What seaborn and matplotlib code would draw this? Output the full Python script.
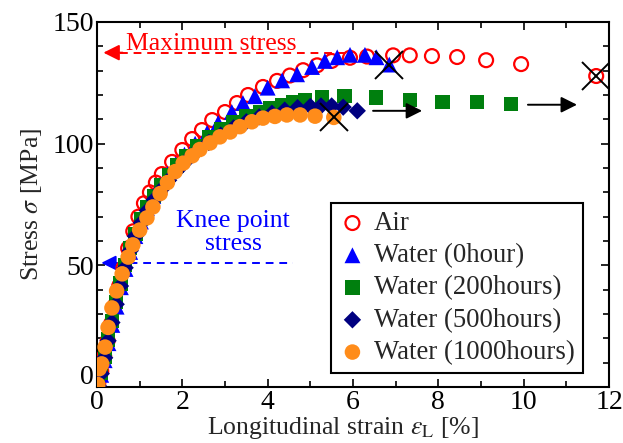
import matplotlib
matplotlib.use("Agg")
import matplotlib.pyplot as plt
from matplotlib.ticker import MultipleLocator, FuncFormatter
import seaborn as sns
import pandas as pd

# ---------------- data ----------------
air_x = [0.03, 0.1, 0.17, 0.25, 0.33, 0.42, 0.52, 0.62, 0.73, 0.85, 0.97, 1.1, 1.24, 1.38, 1.52,
         1.76, 2.0, 2.23, 2.46, 2.7, 3.0, 3.28, 3.54, 3.89, 4.22, 4.52, 4.83, 5.16, 5.5, 5.93,
         6.33, 6.94, 7.33, 7.85, 8.44, 9.12, 9.94, 11.7]
air_y = [1.5, 6.5, 12.5, 19, 26, 33.5, 41.5, 49, 57, 64, 70, 75.5, 80, 84, 87.5,
         92.5, 97.4, 101.9, 105.6, 109.7, 113, 116.7, 120, 123.3, 125.8, 128, 130.2, 132.2, 134, 135.3,
         135.8, 136.3, 136.3, 136, 135.6, 134.3, 132.7, 127.8]

w0_x = [0.03, 0.1, 0.18, 0.27, 0.36, 0.46, 0.56, 0.67, 0.78, 0.9, 1.03, 1.17, 1.32, 1.48, 1.65,
        1.84, 2.05, 2.3, 2.58, 2.84, 3.16, 3.42, 3.7, 4.0, 4.34, 4.69, 5.04, 5.34, 5.63, 5.93,
        6.28, 6.55, 6.85]
w0_y = [0.5, 5, 11, 18, 25.5, 33, 41, 48.5, 55.5, 62, 68, 73.5, 78.5, 83, 87.5,
        91.5, 95.5, 100, 104.4, 108.5, 113, 116.7, 119.5, 123, 126, 128.5, 131.5, 134, 135.5, 136.5,
        136.5, 135.5, 132.5]

w200_x = [0.03, 0.1, 0.18, 0.26, 0.35, 0.45, 0.55, 0.66, 0.78, 0.9, 1.04, 1.18, 1.33, 1.5, 1.68,
          1.88, 2.1, 2.35, 2.62, 2.9, 3.2, 3.5, 3.82, 4.05, 4.33, 4.6, 4.87, 5.27, 5.8, 6.54,
          7.33, 8.1, 8.9, 9.7]
w200_y = [0.5, 6, 12.5, 19.5, 27, 35, 42.5, 50, 57, 63, 69, 74, 78.5, 83, 87,
          91, 95, 99, 102.5, 106, 109, 111.5, 113, 114.6, 116, 117, 118, 119.2, 119.5, 119,
          117.8, 117.2, 117, 116.3]

w500_x = [0.03, 0.1, 0.18, 0.26, 0.35, 0.45, 0.55, 0.66, 0.78, 0.9, 1.04, 1.18, 1.34, 1.5, 1.68,
          1.88, 2.1, 2.35, 2.62, 2.9, 3.2, 3.5, 3.8, 4.1, 4.4, 4.7, 5.0, 5.25, 5.5, 5.77, 6.1]
w500_y = [0.5, 5.5, 12, 19, 26.5, 34, 41.5, 49, 56, 62, 67.5, 72.5, 77, 81, 85,
          89, 93, 97, 100.5, 103.5, 106.5, 109, 111, 112.5, 113.8, 114.8, 115.3, 115.5, 115.5, 115, 113.5]

w1000_x = [0.02, 0.05, 0.11, 0.19, 0.26, 0.35, 0.46, 0.59, 0.73, 0.84, 1.0, 1.17, 1.31, 1.48, 1.65,
           1.83, 2.02, 2.23, 2.41, 2.65, 2.88, 3.12, 3.35, 3.63, 3.89, 4.17, 4.45, 4.76, 5.11, 5.55]
w1000_y = [1, 7.5, 9.5, 16.4, 24.5, 32.5, 39.5, 46.5, 53.4, 58.4, 64.5, 69.5, 74, 79.5, 84,
           88.5, 92, 95, 97.6, 100.3, 102.8, 104.8, 107, 109, 110.5, 111.2, 111.8, 111.8, 111.3, 110.8]

series_names = ["Air", "Water (0hour)", "Water (200hours)", "Water (500hours)", "Water (1000hours)"]

fracture_x = [11.7, 6.85, 5.55]
fracture_y = [127.8, 132.5, 111.0]

max_stress = 137.4
knee_stress = 51.0

# ---------------- style ----------------
sns.set_theme(style="ticks")
plt.rcParams["font.family"] = ["Liberation Serif", "DejaVu Serif"]
plt.rcParams["mathtext.fontset"] = "stix"

fig = plt.figure(figsize=(6.23, 4.43), dpi=100)
ax = fig.add_axes([97 / 623, 1 - 387 / 443, 512 / 623, 365 / 443])

red = "#FF0000"
blue = "#0000FF"
green = "#007F0E"
navy = "#000080"
orange = "#FF8C1A"

# dashed reference lines + arrows (behind data)
ax.plot([0.55, 6.0], [max_stress, max_stress], color=red, lw=1.4, ls=(0, (4, 3)), zorder=1)
ax.annotate("", xy=(0.15, max_stress), xytext=(0.6, max_stress),
            arrowprops=dict(arrowstyle="-|>", color=red, lw=1.4, mutation_scale=24,
                            shrinkA=0, shrinkB=0), zorder=1)
ax.plot([0.45, 4.6], [knee_stress, knee_stress], color=blue, lw=1.4, ls=(0, (4, 3)), zorder=1)
ax.annotate("", xy=(0.1, knee_stress), xytext=(0.45, knee_stress),
            arrowprops=dict(arrowstyle="-|>", color=blue, lw=1.4, mutation_scale=22,
                            shrinkA=0, shrinkB=0), zorder=1)

dfs = [
    pd.DataFrame({"strain": air_x, "stress": air_y}),
    pd.DataFrame({"strain": w0_x, "stress": w0_y}),
    pd.DataFrame({"strain": w200_x, "stress": w200_y}),
    pd.DataFrame({"strain": w500_x, "stress": w500_y}),
    pd.DataFrame({"strain": w1000_x, "stress": w1000_y}),
]

sns.scatterplot(data=dfs[0], x="strain", y="stress", ax=ax, marker="o", s=100,
                facecolors="none", edgecolor=red, linewidth=1.6, label=series_names[0], zorder=3)
sns.scatterplot(data=dfs[1], x="strain", y="stress", ax=ax, marker="^", s=130,
                color=blue, edgecolor="none", linewidth=0, label=series_names[1], zorder=4)
sns.scatterplot(data=dfs[2], x="strain", y="stress", ax=ax, marker="s", s=105,
                color=green, edgecolor="none", linewidth=0, label=series_names[2], zorder=5)
sns.scatterplot(data=dfs[3], x="strain", y="stress", ax=ax, marker="D", s=78,
                color=navy, edgecolor="none", linewidth=0, label=series_names[3], zorder=6)
sns.scatterplot(data=dfs[4], x="strain", y="stress", ax=ax, marker="o", s=125,
                color=orange, edgecolor="none", linewidth=0, label=series_names[4], zorder=7)

# fracture markers
ax.plot(fracture_x, fracture_y, ls="none", marker="x", ms=20, mew=1.4, color="black", zorder=9)

# black arrows
for (x0, x1, yy) in [(6.47, 7.62, 113.5), (10.1, 11.25, 116.0)]:
    ax.annotate("", xy=(x1, yy), xytext=(x0, yy),
                arrowprops=dict(arrowstyle="-|>", color="black", lw=1.4, mutation_scale=24,
                                shrinkA=0, shrinkB=0), zorder=8)

# texts
ax.text(0.68, 141.0, "Maximum stress", color=red, fontsize=18.5, ha="left", va="center", zorder=2)
ax.text(3.19, 63.5, "Knee point\nstress", color=blue, fontsize=18.5, ha="center", va="center",
        linespacing=1.05, zorder=2)

# axes
ax.set_xlim(0, 12)
ax.set_ylim(0, 150)
ax.xaxis.set_major_locator(MultipleLocator(2))
ax.xaxis.set_minor_locator(MultipleLocator(1))
ax.yaxis.set_major_locator(MultipleLocator(50))
ax.yaxis.set_minor_locator(MultipleLocator(10))
# y "0" label is drawn separately, lifted a little as in the reference
ax.yaxis.set_major_formatter(FuncFormatter(lambda v, p: "" if abs(v) < 1e-9 else f"{v:.0f}"))
ax.tick_params(which="both", direction="in", top=True, right=True, width=1.2, colors="black",
               labelsize=20)
ax.tick_params(which="major", length=6, pad=2)
ax.tick_params(which="minor", length=4)
for sp in ax.spines.values():
    sp.set_linewidth(1.5)
    sp.set_color("black")
    sp.set_visible(True)

ax.annotate("0", xy=(0, 0), xycoords=("axes fraction", "data"), xytext=(-2.5, 7),
            textcoords="offset points", ha="right", va="center", fontsize=20, color="black",
            annotation_clip=False)

ax.set_xlabel(r"Longitudinal strain $\varepsilon_{\mathrm{L}}$ [%]", fontsize=18.5, labelpad=0)
ax.xaxis.label.set_x(0.48)
ax.set_ylabel(r"Stress $\sigma$ [MPa]", fontsize=18.5, labelpad=6)

leg = ax.legend(loc="upper left", bbox_to_anchor=(0.457, 0.504), borderaxespad=0,
                fontsize=19.3, frameon=True, fancybox=False, edgecolor="black", framealpha=1,
                scatterpoints=1, handlelength=1.0, handletextpad=0.3, labelspacing=0.27,
                borderpad=0.3)
leg.get_frame().set_linewidth(1.5)
leg.set_zorder(10)

fig.savefig("out.png", dpi=100)
